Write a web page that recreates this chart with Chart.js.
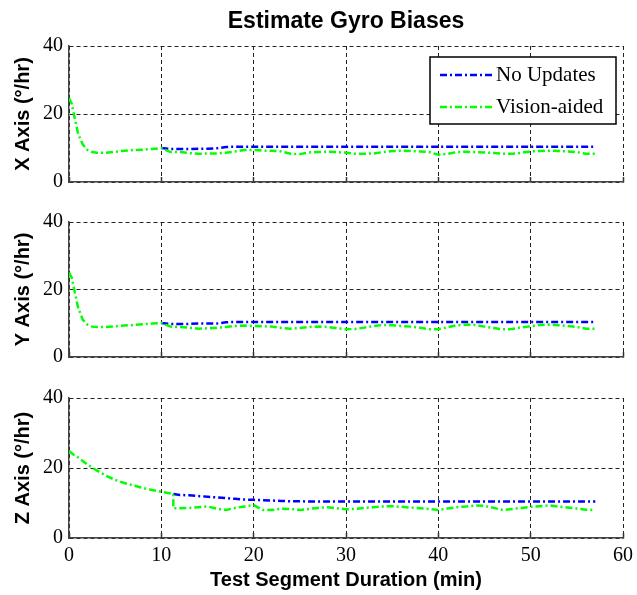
<!DOCTYPE html>
<html>
<head>
<meta charset="utf-8">
<script src="https://cdn.jsdelivr.net/npm/chart.js@4.4.0/dist/chart.umd.min.js"></script>
<style>
  body { margin: 0; background: #fff; }
  #wrap { position: relative; width: 637px; height: 595px; }
  canvas { position: absolute; left: 0; }
</style>
</head>
<body>
<div id="wrap">
  <canvas id="chartX" width="637" height="200" style="top:0px"></canvas>
  <canvas id="chartY" width="637" height="175" style="top:200px"></canvas>
  <canvas id="chartZ" width="637" height="220" style="top:375px"></canvas>
</div>
<script>
const seriesNames = ['No Updates', 'Vision-aided'];
const axisLabels = ['X Axis (°/hr)', 'Y Axis (°/hr)', 'Z Axis (°/hr)'];

// minutes, shared by the X and Y subplots
const headMinutes = [0, 0.3, 0.6, 1, 1.5, 2, 2.5, 3, 4, 5, 6, 7, 8, 9, 10];
const tailMinutes = [11, 12, 13, 14, 15, 16, 17, 18, 19, 20, 21, 22, 23, 24, 25, 26, 27, 28, 29, 30, 31, 32, 33, 34,
  35, 36, 37, 38, 39, 40, 41, 42, 43, 44, 45, 46, 47, 48, 49, 50, 51, 52, 53, 54, 55, 56, 57];

// X axis bias (deg/hr)
const xHead = [24.7, 23, 19, 14, 11, 9.4, 8.8, 8.6, 8.6, 8.9, 9.2, 9.4, 9.5, 9.7, 10.0];
const xVisionTail = [8.8, 8.8, 8.5, 8.3, 8.4, 8.4, 8.6, 9.0, 9.4, 9.4, 9.2, 9.2, 9.0, 8.3, 8.2, 8.7, 8.8, 8.9, 8.8,
  8.6, 8.3, 8.3, 8.4, 8.8, 9.1, 9.2, 9.1, 9.0, 8.8, 8.0, 8.3, 8.8, 8.9, 8.8, 8.7, 8.5, 8.3, 8.3, 8.6, 9.0, 9.1,
  9.2, 9.1, 9.0, 8.8, 8.3, 8.3];
const xNoUpdTail = [9.7, 9.7, 9.7, 9.8, 9.8, 9.9, 10.3, 10.4, 10.4, 10.4, 10.4, 10.4, 10.4, 10.4, 10.4, 10.4, 10.4,
  10.4, 10.4, 10.4, 10.4, 10.4, 10.4, 10.4, 10.4, 10.4, 10.4, 10.4, 10.4, 10.4, 10.4, 10.4, 10.4, 10.4, 10.4,
  10.4, 10.4, 10.4, 10.4, 10.4, 10.4, 10.4, 10.4, 10.4, 10.4, 10.4, 10.4];

// Y axis bias (deg/hr)
const yHead = [25, 23.5, 19.5, 14.5, 11, 9.6, 9.0, 8.9, 8.9, 9.1, 9.3, 9.5, 9.7, 9.9, 10.1];
const yVisionTail = [9.0, 8.9, 8.7, 8.4, 8.5, 8.7, 8.9, 9.2, 9.3, 9.2, 9.1, 9.0, 8.6, 8.4, 8.6, 8.9, 9.0, 8.9, 8.5,
  8.2, 8.3, 8.7, 9.2, 9.5, 9.4, 9.2, 9.0, 8.7, 8.2, 8.2, 8.8, 9.4, 9.6, 9.5, 9.0, 8.6, 8.2, 8.3, 8.8, 9.1, 9.5,
  9.6, 9.4, 9.2, 8.9, 8.4, 8.4];
const yNoUpdTail = [9.8, 9.8, 9.8, 9.9, 9.9, 9.9, 10.3, 10.4, 10.4, 10.4, 10.4, 10.4, 10.4, 10.4, 10.4, 10.4, 10.4,
  10.4, 10.4, 10.4, 10.4, 10.4, 10.4, 10.4, 10.4, 10.4, 10.4, 10.4, 10.4, 10.4, 10.4, 10.4, 10.4, 10.4, 10.4,
  10.4, 10.4, 10.4, 10.4, 10.4, 10.4, 10.4, 10.4, 10.4, 10.4, 10.4, 10.4];

// Z axis: updates start a little later
const zHeadMinutes = [0, 0.5, 1, 2, 3, 4, 5, 6, 7, 8, 9, 10, 11.3];
const zHead = [24.9, 23.8, 23.0, 21.0, 19.3, 17.8, 16.6, 15.7, 15.0, 14.3, 13.7, 13.2, 12.6];
const zTailMinutes = [11.3, 12, 13, 14, 15, 16, 17, 18, 19, 20, 21, 22, 23, 24, 25, 26, 27, 28, 29, 30, 31, 32, 33,
  34, 35, 36, 37, 38, 39, 40, 41, 42, 43, 44, 45, 46, 47, 48, 49, 50, 51, 52, 53, 54, 55, 56, 57];
const zVisionTail = [8.5, 8.5, 8.6, 8.8, 9.0, 8.4, 8.0, 8.6, 9.0, 9.4, 8.0, 8.0, 8.4, 8.3, 8.0, 8.3, 8.6, 8.8, 8.5,
  8.2, 8.3, 8.6, 8.8, 9.0, 9.1, 8.9, 8.7, 8.5, 8.3, 8.0, 8.4, 8.8, 9.0, 9.3, 9.2, 8.6, 8.0, 8.3, 8.6, 8.9, 9.1,
  9.3, 9.0, 8.7, 8.4, 8.1, 8.0];
const zNoUpdTail = [12.6, 12.3, 12.2, 12.0, 11.8, 11.6, 11.4, 11.2, 11.0, 10.9, 10.8, 10.7, 10.6, 10.5, 10.5, 10.4,
  10.4, 10.4, 10.4, 10.4, 10.4, 10.4, 10.4, 10.4, 10.4, 10.4, 10.4, 10.4, 10.4, 10.4, 10.4, 10.4, 10.4, 10.4,
  10.4, 10.4, 10.4, 10.4, 10.4, 10.4, 10.4, 10.4, 10.4, 10.4, 10.4, 10.4, 10.4];

const sansFont = "'Liberation Sans', Arial, sans-serif";
const serifFont = "'Liberation Serif', 'Times New Roman', serif";

function points(times, values) {
    return times.map((t, i) => ({ x: t, y: values[i] }));
}

function lineSet(label, color, data, order) {
    return {
        label: label,
        data: data,
        borderColor: color,
        backgroundColor: color,
        borderWidth: 2.5,
        borderDash: [7, 3, 2, 3],
        pointRadius: 0,
        fill: false,
        tension: 0,
        order: order
    };
}

// boxed legend in the top-right corner of the first subplot
const frameLegend = {
    id: 'frameLegend',
    afterDraw(chart) {
        const { ctx, chartArea } = chart;
        const w = 186, h = 67;
        const left = chartArea.right - 7 - w;
        const top = chartArea.top + 11;
        ctx.save();
        ctx.fillStyle = '#fff';
        ctx.fillRect(left, top, w, h);
        ctx.strokeStyle = '#000';
        ctx.lineWidth = 1.5;
        ctx.setLineDash([]);
        ctx.strokeRect(left, top, w, h);
        chart.data.datasets.forEach((ds, i) => {
            const y = top + 18 + i * 32;
            ctx.strokeStyle = ds.borderColor;
            ctx.lineWidth = ds.borderWidth;
            ctx.setLineDash(ds.borderDash);
            ctx.beginPath();
            ctx.moveTo(left + 10, y);
            ctx.lineTo(left + 62, y);
            ctx.stroke();
            ctx.setLineDash([]);
            ctx.fillStyle = '#000';
            ctx.font = '21px ' + serifFont;
            ctx.textBaseline = 'middle';
            ctx.fillText(ds.label, left + 66, y);
        });
        ctx.restore();
    }
};

function buildChart(id, yLabel, datasets, cfg) {
    return new Chart(document.getElementById(id), {
        type: 'line',
        data: { datasets: datasets },
        options: {
            responsive: false,
            animation: false,
            layout: { padding: { top: cfg.padTop, right: 14, left: 0, bottom: 0 } },
            plugins: {
                legend: { display: false },
                tooltip: { enabled: false },
                title: {
                    display: !!cfg.title,
                    text: cfg.title || '',
                    fullSize: false,
                    color: '#000',
                    font: { family: sansFont, size: 23, weight: 'bold' },
                    padding: { top: 8, bottom: 10.4 }
                }
            },
            scales: {
                x: {
                    type: 'linear',
                    min: 0,
                    max: 60,
                    ticks: {
                        stepSize: 10,
                        display: cfg.xLabels,
                        color: '#000',
                        padding: 11,
                        font: { family: serifFont, size: 20 }
                    },
                    // short solid tick marks pointing into the plot
                    grid: { color: '#222', lineWidth: 1, drawTicks: true, tickLength: -5,
                            tickColor: '#333', tickWidth: 1.5, tickBorderDash: [] },
                    border: { display: true, color: '#444', width: 1.5, dash: [4, 3] },
                    title: {
                        display: cfg.xLabels,
                        text: 'Test Segment Duration (min)',
                        color: '#000',
                        font: { family: sansFont, size: 20, weight: 'bold' },
                        padding: { top: 3, bottom: 3 }
                    },
                    afterFit: (scale) => {
                        scale.height = cfg.xHeight;
                        scale.paddingLeft = 0;
                        scale.paddingRight = 0;
                    }
                },
                y: {
                    min: 0,
                    max: 40,
                    ticks: {
                        stepSize: 20,
                        color: '#000',
                        padding: 6,
                        font: { family: serifFont, size: 20 }
                    },
                    grid: { color: '#222', lineWidth: 1, drawTicks: false },
                    border: { display: true, color: '#444', width: 1.5, dash: [4, 3] },
                    title: {
                        display: true,
                        text: yLabel,
                        color: '#000',
                        font: { family: sansFont, size: 20, weight: 'bold' },
                        padding: { top: 11, bottom: 0 }
                    },
                    afterFit: (scale) => { scale.width = 69; }
                }
            }
        },
        plugins: cfg.legend ? [frameLegend] : []
    });
}

buildChart('chartX', axisLabels[0], [
    lineSet(seriesNames[0], '#0000ff', points([10].concat(tailMinutes), [xHead[xHead.length - 1]].concat(xNoUpdTail)), 1),
    lineSet(seriesNames[1], '#00ff00', points(headMinutes.concat(tailMinutes), xHead.concat(xVisionTail)), 0)
], { padTop: 0, xHeight: 13, xLabels: false, title: 'Estimate Gyro Biases', legend: true });

buildChart('chartY', axisLabels[1], [
    lineSet(seriesNames[0], '#0000ff', points([10].concat(tailMinutes), [yHead[yHead.length - 1]].concat(yNoUpdTail)), 1),
    lineSet(seriesNames[1], '#00ff00', points(headMinutes.concat(tailMinutes), yHead.concat(yVisionTail)), 0)
], { padTop: 22, xHeight: 12, xLabels: false });

buildChart('chartZ', axisLabels[2], [
    lineSet(seriesNames[0], '#0000ff', points(zTailMinutes, zNoUpdTail), 1),
    lineSet(seriesNames[1], '#00ff00', points(zHeadMinutes.concat(zTailMinutes), zHead.concat(zVisionTail)), 0)
], { padTop: 23, xHeight: 57, xLabels: true });
</script>
</body>
</html>
